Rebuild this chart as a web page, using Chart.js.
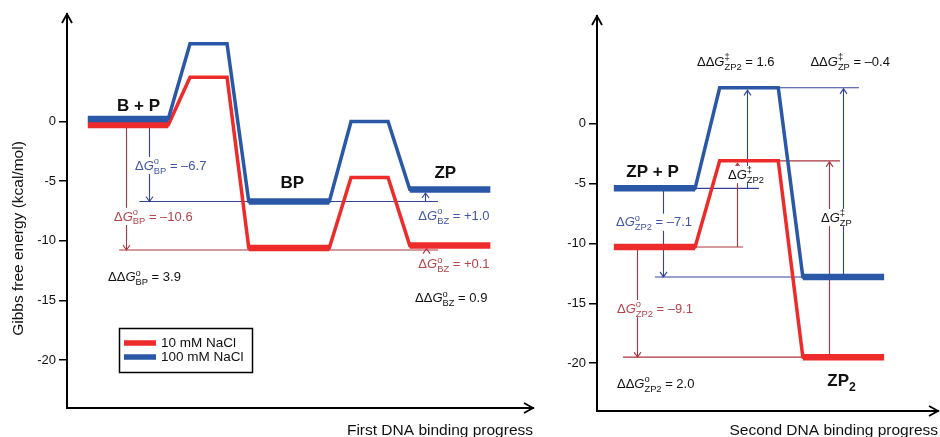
<!DOCTYPE html>
<html>
<head>
<meta charset="utf-8">
<title>DNA binding free energy</title>
<script src="https://cdn.jsdelivr.net/npm/chart.js@4.4.1/dist/chart.umd.min.js"></script>
<style>
	html, body { margin: 0; padding: 0; background: #fff; }
	#wrap { position: relative; width: 940px; height: 437px; overflow: hidden; }
	#first { position: absolute; left: 0; top: 0; }
	#second { position: absolute; left: 540px; top: 0; }
</style>
</head>
<body>
<div id="wrap">
	<canvas id="first" width="540" height="437"></canvas>
	<canvas id="second" width="400" height="437"></canvas>
</div>
<script>
'use strict';

// Free energies in kcal/mol
var seriesNames = [ '10 mM NaCl', '100 mM NaCl' ];

var firstStates = [ 'B + P', 'TS1', 'BP', 'TS2', 'ZP' ];
var firstLowSalt = [ -0.3, 3.7, -10.6, -4.7, -10.4 ];
var firstHighSalt = [ 0.2, 6.5, -6.7, 0, -5.7 ];

var secondStates = [ 'ZP + P', 'TS', 'ZP2' ];
var secondLowSalt = [ -10.3, -3.1, -19.5 ];
var secondHighSalt = [ -5.4, 3.0, -12.8 ];

var yTicks = [ 0, -5, -10, -15, -20 ];
var yRange = [ -24, 9 ];

// Styles
var FONT = '"Liberation Sans", Arial, Helvetica, sans-serif';
var seriesColors = [ '#ed2b2a', '#2a57a6' ];
var guideColors = [ '#a9363d', '#33429b' ];
var textColors = [ '#b4434a', '#4254a6', '#111111' ];

// Layout of each panel (x in reaction progress units)
var firstLayout = {
	centers: [ 0, 1, 2, 3, 4 ], halfWidths: [ 0.5, 0.23 ],
	xMin: -0.758, xMax: 5.03,
	yAxisWidth: 67, padTop: 14, padRight: 7, xAxisHeight: 29,
	xTitle: 'First DNA binding progress'
};
var secondLayout = {
	centers: [ 0, 1, 2 ], halfWidths: [ 0.43, 0.31 ],
	xMin: -0.608, xMax: 3.0,
	yAxisWidth: 57, padTop: 16, padRight: 2, xAxisHeight: 26,
	xTitle: 'Second DNA binding progress'
};

// Thin guide lines and arrows (s: series, state: index into the series)
var firstGuides = {
	levels: [
		{ s: 1, state: 2, from: 0.14, to: 3.85 },
		{ s: 0, state: 2, from: -0.11, to: 3.85, dy: 2 }
	],
	arrows: [
		{ s: 0, x: -0.025, from: 0, to: 2, dyTo: 2 },
		{ s: 1, x: 0.26, from: 0, to: 2 },
		{ s: 1, x: 3.69, from: 2, to: 4, dyTo: 3.5 },
		{ s: 0, x: 3.70, from: 2, to: 4, dyFrom: 2, dyTo: 3 }
	]
};
var secondGuides = {
	levels: [
		{ s: 1, state: 0, from: 0.43, to: 1.106 },
		{ s: 1, state: 2, from: 0.005, to: 1.6 },
		{ s: 0, state: 0, from: 0.43, to: 0.937 },
		{ s: 0, state: 2, from: -0.333, to: 1.6 },
		{ s: 0, state: 1, from: 1.296, to: 1.963 },
		{ s: 1, state: 1, from: 1.296, to: 2.164 }
	],
	arrows: [
		{ s: 1, x: 0.09, from: 0, to: 2 },
		{ s: 0, x: -0.185, from: 0, to: 2 },
		{ s: 0, x: 0.873, from: 0, to: 1, dyTo: 2.5 },
		{ s: 1, x: 0.979, from: 0, to: 1, dyTo: 2.5 },
		{ s: 0, x: 1.846, from: 2, to: 1, dyTo: 1 },
		{ s: 1, x: 1.995, from: 2, to: 1, dyTo: 1 }
	]
};

// Text: pre + italic G + stacked sup/sub + post
function dG( pre, sup, sub, post ) {
	return [ [ pre ], [ 'G', 'i' ], [ sup, 'sup' ], [ sub, 'sub' ], [ post ] ];
}

var firstNotes = [
	{ x: 0.13, y: 1.38, parts: [ [ 'B + P' ] ], c: 2, bold: true, size: 17, align: 'center' },
	{ x: 2.04, y: -5.04, parts: [ [ 'BP' ] ], c: 2, bold: true, size: 17, align: 'center' },
	{ x: 3.94, y: -4.2, parts: [ [ 'ZP' ] ], c: 2, bold: true, size: 17, align: 'center' },
	{ x: 0.087, y: -3.65, parts: dG( '\u0394', 'o', 'BP', ' = \u20136.7' ), c: 1, bg: true },
	{ x: -0.174, y: -7.91, parts: dG( '\u0394', 'o', 'BP', ' = \u201310.6' ), c: 0, bg: true },
	{ x: -0.248, y: -13.0, parts: dG( '\u0394\u0394', 'o', 'BP', ' = 3.9' ), c: 2 },
	{ x: 3.606, y: -7.85, parts: dG( '\u0394', 'o', 'BZ', ' = +1.0' ), c: 1 },
	{ x: 3.606, y: -11.88, parts: dG( '\u0394', 'o', 'BZ', ' = +0.1' ), c: 0 },
	{ x: 3.565, y: -14.76, parts: dG( '\u0394\u0394', 'o', 'BZ', ' = 0.9' ), c: 2 }
];
var secondNotes = [
	{ x: -0.02, y: -3.95, parts: [ [ 'ZP + P' ] ], c: 2, bold: true, size: 17, align: 'center' },
	{ x: 1.98, y: -21.4, parts: [ [ 'ZP' ], [ '2', 'sub' ] ], c: 2, bold: true, size: 17, align: 'center' },
	{ x: -0.407, y: -8.19, parts: dG( '\u0394', 'o', 'ZP2', ' = \u20137.1' ), c: 1, bg: true },
	{ x: -0.397, y: -15.4, parts: dG( '\u0394', 'o', 'ZP2', ' = \u20139.1' ), c: 0, bg: true },
	{ x: -0.397, y: -21.66, parts: dG( '\u0394\u0394', 'o', 'ZP2', ' = 2.0' ), c: 2 },
	{ x: 0.45, y: 5.24, parts: dG( '\u0394\u0394', '\u2021', 'ZP2', ' = 1.6' ), c: 2 },
	{ x: 1.65, y: 5.24, parts: dG( '\u0394\u0394', '\u2021', 'ZP', ' = \u20130.4' ), c: 2 },
	{ x: 0.778, y: -4.2, parts: dG( '\u0394', '\u2021', 'ZP2', '' ), c: 2, bg: true },
	{ x: 1.762, y: -7.8, parts: dG( '\u0394', '\u2021', 'ZP', '' ), c: 2, bg: true }
];

// Each state becomes a flat step; consecutive steps are joined by ramps
function levelPoints( values, layout ) {
	var pts = [];
	values.forEach( function( v, i ) {
		var c = layout.centers[ i ];
		var h = layout.halfWidths[ i % 2 === 0 ? 0 : 1 ];
		pts.push( { x: c - h, y: v }, { x: c + h, y: v } );
	} );
	return pts;
}

function drawNote( ctx, n, px, py ) {
	var size = n.size || 13;
	var small = size * 0.72;
	var weight = n.bold ? 'bold ' : '';
	function font( kind ) {
		if ( kind === 'i' ) return 'italic ' + weight + size + 'px ' + FONT;
		if ( kind === 'sup' || kind === 'sub' ) return weight + small + 'px ' + FONT;
		return weight + size + 'px ' + FONT;
	}
	var runs = [];
	var x = 0;
	for ( var i = 0; i < n.parts.length; i++ ) {
		var p = n.parts[ i ];
		var kind = p[ 1 ] || 'n';
		ctx.font = font( kind );
		var w = ctx.measureText( p[ 0 ] ).width;
		var shift = kind === 'sup' ? -0.42 * size : ( kind === 'sub' ? 0.3 * size : 0 );
		runs.push( { t: p[ 0 ], kind: kind, x: x, dy: shift } );
		var next = n.parts[ i + 1 ];
		if ( kind === 'sup' && next && next[ 1 ] === 'sub' ) {
			ctx.font = font( 'sub' );
			var w2 = ctx.measureText( next[ 0 ] ).width;
			runs.push( { t: next[ 0 ], kind: 'sub', x: x, dy: 0.3 * size } );
			w = Math.max( w, w2 );
			i++;
		}
		x += w;
	}
	var left = n.align === 'center' ? px - x / 2 : px;
	var base = py + 0.36 * size;
	if ( n.bg ) {
		ctx.fillStyle = '#fff';
		ctx.fillRect( left - 1, py - 0.62 * size, x + 2, 1.32 * size );
	}
	ctx.fillStyle = textColors[ n.c ];
	ctx.textBaseline = 'alphabetic';
	ctx.textAlign = 'left';
	runs.forEach( function( r ) {
		ctx.font = font( r.kind );
		ctx.fillText( r.t, left + r.x, base + r.dy );
	} );
}

function decorPlugin( cfg ) {
	return {
		id: 'energyDecor',
		beforeDatasetsDraw: function( chart ) {
			var ctx = chart.ctx;
			var xs = chart.scales.x;
			var ys = chart.scales.y;
			ctx.save();
			ctx.lineWidth = 1.1;
			cfg.guides.levels.forEach( function( g ) {
				var y = ys.getPixelForValue( cfg.levels[ g.s ][ g.state ] ) + ( g.dy || 0 );
				ctx.strokeStyle = guideColors[ g.s ];
				ctx.beginPath();
				ctx.moveTo( xs.getPixelForValue( g.from ), y );
				ctx.lineTo( xs.getPixelForValue( g.to ), y );
				ctx.stroke();
			} );
			cfg.guides.arrows.forEach( function( a ) {
				var x = Math.round( xs.getPixelForValue( a.x ) ) + 0.5;
				var y0 = ys.getPixelForValue( cfg.levels[ a.s ][ a.from ] ) + ( a.dyFrom || 0 );
				var y1 = ys.getPixelForValue( cfg.levels[ a.s ][ a.to ] );
				var dir = y1 > y0 ? 1 : -1;
				y1 += ( a.dyTo || 0 );
				ctx.strokeStyle = guideColors[ a.s ];
				ctx.beginPath();
				ctx.moveTo( x, y0 );
				ctx.lineTo( x, y1 );
				ctx.moveTo( x - 3.5, y1 - dir * 5 );
				ctx.lineTo( x, y1 );
				ctx.lineTo( x + 3.5, y1 - dir * 5 );
				ctx.stroke();
			} );
			ctx.restore();
		},
		afterDatasetsDraw: function( chart ) {
			var ctx = chart.ctx;
			ctx.save();
			cfg.notes.forEach( function( n ) {
				drawNote( ctx, n, chart.scales.x.getPixelForValue( n.x ), chart.scales.y.getPixelForValue( n.y ) );
			} );
			ctx.restore();
		},
		afterDraw: function( chart ) {
			var ctx = chart.ctx;
			var a = chart.chartArea;
			ctx.save();
			// axis arrow heads
			ctx.strokeStyle = '#000';
			ctx.lineWidth = 1.8;
			ctx.beginPath();
			ctx.moveTo( a.left - 5, a.top + 9 );
			ctx.lineTo( a.left, a.top );
			ctx.lineTo( a.left + 5, a.top + 9 );
			ctx.moveTo( a.right - 9, a.bottom - 5 );
			ctx.lineTo( a.right, a.bottom );
			ctx.lineTo( a.right - 9, a.bottom + 5 );
			ctx.stroke();

			if ( cfg.legend ) {
				var lg = cfg.legend;
				ctx.lineWidth = 1.5;
				ctx.strokeRect( lg.x + 0.5, lg.y + 0.5, lg.w, lg.h );
				chart.data.datasets.forEach( function( ds, i ) {
					var y = lg.y + 15 + i * 14;
					ctx.strokeStyle = ds.borderColor;
					ctx.lineWidth = 5.5;
					ctx.beginPath();
					ctx.moveTo( lg.x + 5, y );
					ctx.lineTo( lg.x + 37, y );
					ctx.stroke();
					ctx.fillStyle = '#111';
					ctx.font = '13.5px ' + FONT;
					ctx.textBaseline = 'middle';
					ctx.textAlign = 'left';
					ctx.fillText( ds.label, lg.x + 42, y + 0.5 );
				} );
			}

			if ( cfg.yTitle ) {
				ctx.translate( cfg.yTitle.x, cfg.yTitle.y );
				ctx.rotate( -Math.PI / 2 );
				ctx.fillStyle = '#111';
				ctx.font = '15.5px ' + FONT;
				ctx.textAlign = 'center';
				ctx.textBaseline = 'middle';
				ctx.fillText( cfg.yTitle.text, 0, 0 );
			}
			ctx.restore();
		}
	};
}

function makeChart( id, low, high, layout, guides, notes, extra ) {
	var common = {
		pointRadius: 0,
		borderWidth: 3.5,
		tension: 0,
		fill: false,
		borderJoinStyle: 'miter',
		borderCapStyle: 'round',
		segment: {
			// stable states are drawn thicker than ramps and transition states
			borderWidth: function( c ) { return c.p0DataIndex % 4 === 0 ? 6.5 : 3.5; },
			borderCapStyle: function( c ) { return c.p0DataIndex % 4 === 0 ? 'butt' : 'round'; }
		}
	};
	var datasets = [ low, high ].map( function( vals, i ) {
		return Object.assign( {
			label: seriesNames[ i ],
			data: levelPoints( vals, layout ),
			borderColor: seriesColors[ i ],
			order: 1 - i
		}, common );
	} );

	return new Chart( document.getElementById( id ), {
		type: 'line',
		data: { datasets: datasets },
		options: {
			responsive: false,
			animation: false,
			devicePixelRatio: 1,
			events: [],
			layout: { padding: { top: layout.padTop, right: layout.padRight, left: 0, bottom: 0 } },
			plugins: { legend: { display: false }, tooltip: { enabled: false } },
			scales: {
				x: {
					type: 'linear',
					min: layout.xMin,
					max: layout.xMax,
					grid: { display: false, drawTicks: false },
					ticks: { display: false },
					border: { display: true, color: '#000', width: 2 },
					title: {
						display: true,
						text: layout.xTitle,
						align: 'end',
						color: '#111',
						font: { family: FONT, size: 15.5 },
						padding: { top: 0, bottom: -3 }
					},
					afterFit: function( s ) { s.height = layout.xAxisHeight; }
				},
				y: {
					type: 'linear',
					min: yRange[ 0 ],
					max: yRange[ 1 ],
					afterBuildTicks: function( s ) {
						s.ticks = yTicks.slice().sort( function( a, b ) { return a - b; } )
							.map( function( v ) { return { value: v }; } );
					},
					ticks: {
						color: '#111',
						font: { family: FONT, size: 13 },
						padding: 3,
						callback: function( v ) { return String( v ); }
					},
					grid: { display: true, drawOnChartArea: false, drawTicks: true, tickLength: 8, color: '#000', lineWidth: 1.5 },
					border: { display: true, color: '#000', width: 2 },
					afterFit: function( s ) { s.width = layout.yAxisWidth; }
				}
			}
		},
		plugins: [ decorPlugin( Object.assign( { levels: [ low, high ], guides: guides, notes: notes }, extra ) ) ]
	} );
}

makeChart( 'first', firstLowSalt, firstHighSalt, firstLayout, firstGuides, firstNotes, {
	legend: { x: 119, y: 328, w: 133, h: 44 },
	yTitle: { x: 19, y: 238.5, text: 'Gibbs free energy (kcal/mol)' }
} );
makeChart( 'second', secondLowSalt, secondHighSalt, secondLayout, secondGuides, secondNotes, {} );
</script>
</body>
</html>
